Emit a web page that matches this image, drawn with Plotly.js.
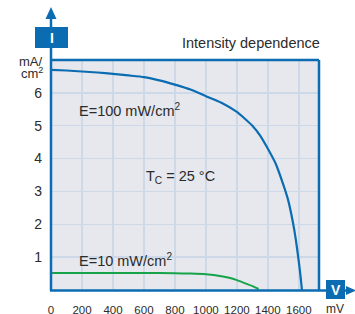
<!DOCTYPE html>
<html>
<head>
<meta charset="utf-8">
<script src="https://cdn.plot.ly/plotly-3.0.1.min.js"></script>
<style>html,body{margin:0;padding:0;background:#fff;}#chart{width:355px;height:314px;}</style>
</head>
<body>
<div id="chart"></div>
<script>
// Data
const voltage100 = [0,100,200,300,400,500,600,700,800,900,1000,1100,1200,1300,1350,1400,1450,1500,1530,1560,1580,1600,1610,1620];
const current100 = [6.70,6.68,6.65,6.62,6.58,6.53,6.48,6.38,6.25,6.10,5.90,5.70,5.42,5.00,4.70,4.30,3.85,3.20,2.75,2.10,1.55,0.85,0.45,0];
const voltage10 = [0,200,400,600,800,900,1000,1100,1150,1200,1250,1300,1340];
const current10 = [0.52,0.52,0.52,0.52,0.51,0.50,0.48,0.42,0.37,0.30,0.21,0.12,0.03];
const xTicks = [0,200,400,600,800,1000,1200,1400,1600];
const yTicks = [1,2,3,4,5,6];

const BLUE = '#0b6cb2';
const FONT = 'Liberation Sans, Arial, sans-serif';
const TXT = '#2b2b2b';

// plot area geometry (px)
const L = 51, R = 319, T = 60, B = 290;
const W = R - L, H = B - T;
const px = x => (x - L) / W;
const py = y => (B - y) / H;

const traces = [
  {x: voltage100, y: current100, mode: 'lines', line: {color: BLUE, width: 2.2, shape: 'spline', smoothing: 0.5}, hoverinfo: 'skip'},
  {x: voltage10, y: current10, mode: 'lines', line: {color: '#17a34a', width: 2, shape: 'spline', smoothing: 0.5}, hoverinfo: 'skip'}
];

function tri(x0, y0, x1, y1, x2, y2) {
  return `M ${x0} ${y0} L ${x1} ${y1} L ${x2} ${y2} Z`;
}

const shapes = [
  // frame top & right
  {type: 'line', xref: 'paper', yref: 'paper', x0: 0, x1: 1, y0: 1, y1: 1, line: {color: BLUE, width: 2.5}},
  {type: 'line', xref: 'paper', yref: 'paper', x0: 1, x1: 1, y0: 0, y1: 1, line: {color: BLUE, width: 2.5}},
  // left axis extended up
  {type: 'line', xref: 'paper', yref: 'paper', x0: 0, x1: 0, y0: py(291), y1: py(15), line: {color: BLUE, width: 2.5}},
  // bottom axis extended right
  {type: 'line', xref: 'paper', yref: 'paper', x0: px(50), x1: px(349), y0: py(290.5), y1: py(290.5), line: {color: BLUE, width: 2.5}},
  // arrowheads
  {type: 'path', xref: 'paper', yref: 'paper', path: tri(px(51 - 5.5), py(19), px(51 + 5.5), py(19), px(51), py(7)), fillcolor: BLUE, line: {width: 0}},
  {type: 'path', xref: 'paper', yref: 'paper', path: tri(px(346), py(286), px(346), py(295), px(356), py(290.5)), fillcolor: BLUE, line: {width: 0}},
  // boxes
  {type: 'rect', xref: 'paper', yref: 'paper', x0: px(35), x1: px(68), y0: py(48), y1: py(27), fillcolor: BLUE, line: {width: 0}},
  {type: 'rect', xref: 'paper', yref: 'paper', x0: px(326), x1: px(345), y0: py(299), y1: py(280), fillcolor: BLUE, line: {width: 0}}
];

const ann = (text, x, y, opts = {}) => Object.assign({
  text, xref: 'paper', yref: 'paper', x: px(x), y: py(y), showarrow: false,
  xanchor: 'left', yanchor: 'middle', font: {family: FONT, size: 14.5, color: TXT}
}, opts);

const annotations = [
  ann('Intensity dependence', 322, 43, {xanchor: 'right', font: {family: FONT, size: 14.5, color: TXT}}),
  ann('<b>I</b>', 51.5, 38, {xanchor: 'center', font: {family: FONT, size: 14, color: '#ffffff'}}),
  ann('<b>V</b>', 335.5, 290, {xanchor: 'center', font: {family: FONT, size: 14, color: '#ffffff'}}),
  ann('mA/', 45, 62, {xanchor: 'right', font: {family: FONT, size: 13, color: TXT}}),
  ann('cm<sup>2</sup>', 45, 73, {xanchor: 'right', font: {family: FONT, size: 13, color: TXT}}),
  ann('mV', 335, 309, {xanchor: 'center', font: {family: FONT, size: 12, color: TXT}}),
  ann('E=100 mW/cm<sup>2</sup>', 77, 110),
  ann('T<sub>C</sub> = 25 °C', 144, 177),
  ann('E=10 mW/cm<sup>2</sup>', 77, 260)
];

const layout = {
  width: 355, height: 314,
  margin: {l: L, r: 355 - R, t: T, b: 314 - B, pad: 0},
  paper_bgcolor: '#ffffff',
  plot_bgcolor: '#e6e8ee',
  showlegend: false,
  xaxis: {
    range: [0, 1730], tickvals: xTicks, ticktext: xTicks.map(String),
    showgrid: true, gridcolor: '#cdd8e8', gridwidth: 1.5, zeroline: false, showline: false,
    ticks: '', ticklabelstandoff: 11, tickfont: {family: FONT, size: 11.5, color: TXT}, fixedrange: true
  },
  yaxis: {
    range: [0, 7], tickvals: yTicks, ticktext: yTicks.map(String),
    showgrid: true, gridcolor: '#cdd8e8', gridwidth: 1.5, zeroline: false, showline: false,
    ticks: '', ticklabelstandoff: 8, tickfont: {family: FONT, size: 14, color: TXT}, fixedrange: true
  },
  shapes, annotations
};

Plotly.newPlot('chart', traces, layout, {staticPlot: true, displayModeBar: false});
</script>
</body>
</html>
